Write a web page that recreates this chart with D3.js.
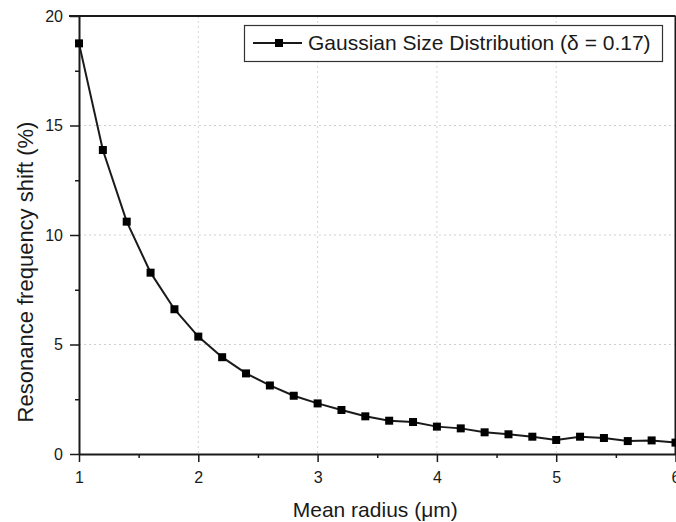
<!DOCTYPE html>
<html>
<head>
<meta charset="utf-8">
<script src="https://cdn.jsdelivr.net/npm/d3@7"></script>
<style>
  html, body { margin: 0; padding: 0; background: #fff; }
  svg { display: block; font-family: "Liberation Sans", Arial, Helvetica, sans-serif; }
</style>
</head>
<body>
<svg id="chart" width="676" height="522"></svg>
<script>
// ---- data ----
const meanRadius = [1.0, 1.2, 1.4, 1.6, 1.8, 2.0, 2.2, 2.4, 2.6, 2.8, 3.0, 3.2, 3.4, 3.6, 3.8,
                    4.0, 4.2, 4.4, 4.6, 4.8, 5.0, 5.2, 5.4, 5.6, 5.8, 6.0];
const freqShift = [18.75, 13.88, 10.61, 8.28, 6.61, 5.36, 4.42, 3.68, 3.13, 2.66, 2.31, 2.01, 1.72,
                   1.52, 1.46, 1.25, 1.17, 0.99, 0.90, 0.79, 0.64, 0.79, 0.73, 0.59, 0.62, 0.52];
const xTicks = [1, 2, 3, 4, 5, 6];
const xMinorTicks = [1.5, 2.5, 3.5, 4.5, 5.5];
const yTicks = [0, 5, 10, 15, 20];
const yMinorTicks = [2.5, 7.5, 12.5, 17.5];
const seriesName = "Gaussian Size Distribution (\u03B4 = 0.17)";
const xTitle = "Mean radius (\u03BCm)";
const yTitle = "Resonance frequency shift (%)";

(function () {
// ---- layout ----
const svg = d3.select("#chart");
const pLeft = 79, pRight = 675.5, pTop = 16, pBottom = 454;
const x = d3.scaleLinear().domain([1, 6]).range([pLeft, pRight]);
const y = d3.scaleLinear().domain([0, 20]).range([pBottom, pTop]);
const ink = "#1a1a1a";

// grid
const grid = svg.append("g");
grid.selectAll("line.gx").data(xTicks.filter(d => d > 1 && d < 6)).join("line")
  .attr("x1", d => x(d)).attr("x2", d => x(d)).attr("y1", pTop).attr("y2", pBottom)
  .attr("stroke", "#d4d4d4").attr("stroke-width", 1).attr("stroke-dasharray", "2,3");
grid.selectAll("line.gy").data(yTicks.filter(d => d > 0 && d < 20)).join("line")
  .attr("y1", d => y(d)).attr("y2", d => y(d)).attr("x1", pLeft).attr("x2", pRight)
  .attr("stroke", "#cfcfcf").attr("stroke-width", 1).attr("stroke-dasharray", "2,3");

// frame (top / right)
svg.append("line").attr("x1", pLeft - 10).attr("x2", pRight).attr("y1", pTop).attr("y2", pTop)
  .attr("stroke", ink).attr("stroke-width", 2);
svg.append("line").attr("x1", pRight).attr("x2", pRight).attr("y1", pTop).attr("y2", pBottom)
  .attr("stroke", ink).attr("stroke-width", 2);

// axes
function styleAxis(g) {
  g.select(".domain").attr("stroke", ink).attr("stroke-width", 2);
  g.selectAll(".tick line").attr("stroke", ink).attr("stroke-width", 1.5);
  g.selectAll(".tick text").attr("fill", ink).attr("font-size", 16);
}
const xAxis = svg.append("g").attr("transform", `translate(0,${pBottom})`)
  .call(d3.axisBottom(x).tickValues(xTicks).tickFormat(d3.format("d")).tickSize(8).tickPadding(10).tickSizeOuter(0));
styleAxis(xAxis);
const xMinor = svg.append("g").attr("transform", `translate(0,${pBottom})`)
  .call(d3.axisBottom(x).tickValues(xMinorTicks).tickFormat("").tickSize(4).tickSizeOuter(0));
xMinor.select(".domain").remove();
xMinor.selectAll(".tick line").attr("stroke", ink).attr("stroke-width", 1.5);

const yAxis = svg.append("g").attr("transform", `translate(${pLeft},0)`)
  .call(d3.axisLeft(y).tickValues(yTicks).tickFormat(d3.format("d")).tickSize(9).tickPadding(7).tickSizeOuter(0));
styleAxis(yAxis);
const yMinor = svg.append("g").attr("transform", `translate(${pLeft},0)`)
  .call(d3.axisLeft(y).tickValues(yMinorTicks).tickFormat("").tickSize(4).tickSizeOuter(0));
yMinor.select(".domain").remove();
yMinor.selectAll(".tick line").attr("stroke", ink).attr("stroke-width", 1.5);

// titles
svg.append("text").attr("x", (pLeft + pRight) / 2 - 2).attr("y", 517)
  .attr("text-anchor", "middle").attr("font-size", 21).attr("fill", ink).text(xTitle);
svg.append("text").attr("transform", "translate(33,272) rotate(-90)")
  .attr("text-anchor", "middle").attr("font-size", 22).attr("fill", ink).text(yTitle);

// series
const pts = meanRadius.map((r, i) => [r, freqShift[i]]);
const line = d3.line().x(d => x(d[0])).y(d => y(d[1]));
svg.append("path").datum(pts).attr("d", line)
  .attr("fill", "none").attr("stroke", ink).attr("stroke-width", 2);
const ms = 8;
svg.append("g").selectAll("rect").data(pts).join("rect")
  .attr("x", d => x(d[0]) - ms / 2).attr("y", d => y(d[1]) - ms / 2)
  .attr("width", ms).attr("height", ms).attr("fill", "#000");

// legend
const lg = svg.append("g");
lg.append("rect").attr("x", 244.5).attr("y", 25.5).attr("width", 418).attr("height", 36)
  .attr("fill", "#fff").attr("stroke", "#333").attr("stroke-width", 1.2);
lg.append("line").attr("x1", 253).attr("x2", 302).attr("y1", 43).attr("y2", 43)
  .attr("stroke", ink).attr("stroke-width", 2);
lg.append("rect").attr("x", 279 - ms / 2).attr("y", 43 - ms / 2).attr("width", ms).attr("height", ms).attr("fill", "#000");
lg.append("text").attr("x", 308).attr("y", 43).attr("dy", "0.35em")
  .attr("font-size", 21).attr("fill", ink).text(seriesName);
})();
</script>
</body>
</html>
